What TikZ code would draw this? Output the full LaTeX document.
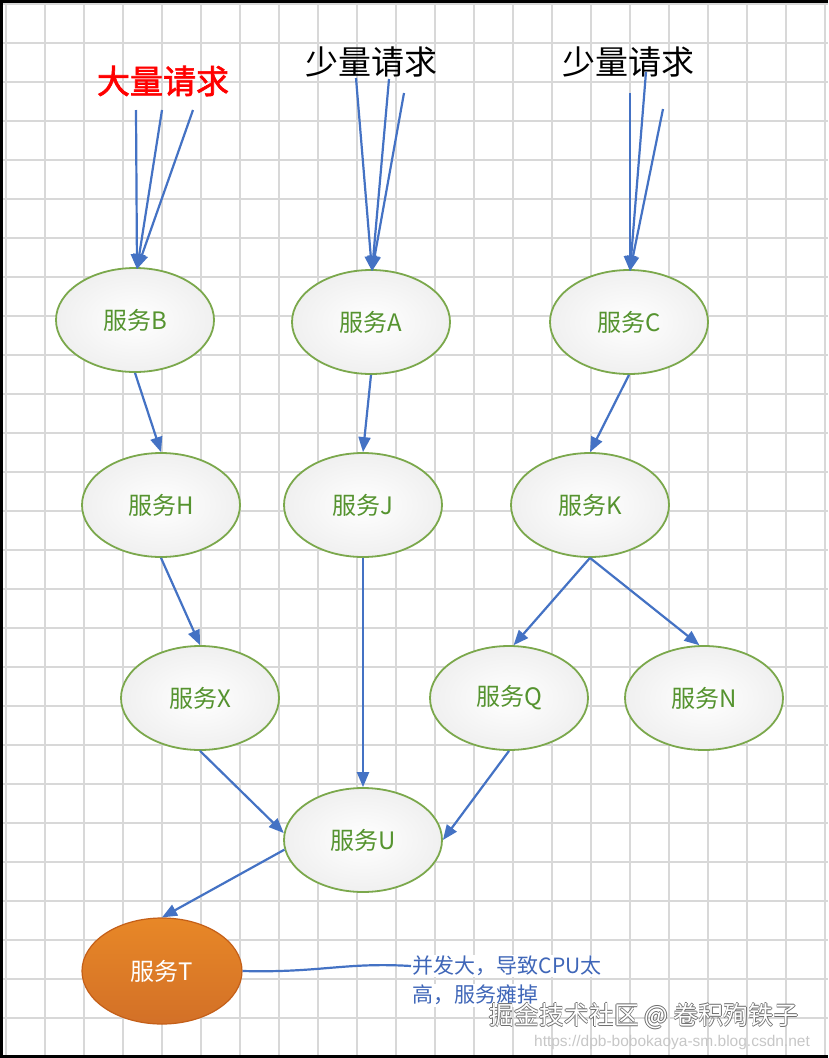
\documentclass[tikz,border=0pt]{standalone}
\usepackage{fontspec}
\setmainfont[AutoFakeBold=2]{Noto Sans CJK SC}
\newfontfamily\urlfont{Liberation Sans}
\usetikzlibrary{arrows.meta,shapes.geometric,calc}
\definecolor{arrblue}{HTML}{4472C4}
\definecolor{svcgreen}{HTML}{7BA84C}
\definecolor{txtgreen}{HTML}{55932F}
\definecolor{gridc}{HTML}{D8D8D8}
\definecolor{tfill}{HTML}{E57A2B}
\definecolor{tdark}{HTML}{C45F18}
\definecolor{anncol}{HTML}{3F66B8}
\definecolor{wmgray}{HTML}{6E6E6E}
\newcommand\outlined[1]{\leavevmode
  \rlap{\kern-0.9pt\textcolor{wmgray}{#1}}%
  \rlap{\kern0.9pt\textcolor{wmgray}{#1}}%
  \rlap{\raisebox{0.9pt}{\textcolor{wmgray}{#1}}}%
  \rlap{\raisebox{-0.9pt}{\textcolor{wmgray}{#1}}}%
  \textcolor{white}{#1}}
\begin{document}
\begin{tikzpicture}[x=1pt,y=-1pt,
  svc/.style={ellipse, draw=svcgreen, line width=1.8pt, minimum width=158pt,
    minimum height=104pt, inner sep=0pt, inner color=white, outer color=black!6,
    text=txtgreen, font=\fontsize{24}{24}\selectfont},
  hot/.style={ellipse, draw=tdark, line width=1.2pt, minimum width=160pt,
    minimum height=106pt, inner sep=0pt, top color=tfill!90!yellow, bottom color=tfill!92!black,
    text=white, font=\fontsize{24}{24}\selectfont},
  flow/.style={draw=arrblue, line width=2.2pt, -{Triangle[length=15pt,width=12pt]}},
  req/.style={font=\fontsize{33}{33}\selectfont, inner sep=0pt},
  ann/.style={anchor=west, fill=white, inner sep=1.5pt, text=anncol, font=\fontsize{21}{21}\selectfont}
]
\useasboundingbox (0,0) rectangle (828,1058);
\fill[white] (0,0) rectangle (828,1058);
% grid
\foreach \x in {6,45,...,825} \draw[gridc, line width=1.3pt] (\x,0) -- (\x,1058);
\foreach \y in {4,43,...,1057} \draw[gridc, line width=1.3pt] (0,\y) -- (828,\y);
% frame
\draw[black, line width=3pt] (1.5,1058) -- (1.5,1.5) -- (828,1.5);
\draw[black, line width=3pt] (0,1056.5) -- (828,1056.5);

% request labels
\node[req, text=red] (r1) at (163,81) {\bfseries 大量请求};
\node[req] (r2) at (371,62) {少量请求};
\node[req] (r3) at (628,62) {少量请求};

% services
\node[svc] (B) at (135,320) {服务B};
\node[svc] (A) at (371,322) {服务A};
\node[svc] (C) at (629,322) {服务C};
\node[svc] (H) at (161,505) {服务H};
\node[svc] (J) at (363,505) {服务J};
\node[svc] (K) at (590,505) {服务K};
\node[svc] (X) at (200,698) {服务X};
\node[svc] (Q) at (509,698) {服务Q};
\node[svc] (N) at (704,698) {服务N};
\node[svc] (U) at (363,840) {服务U};
\node[hot] (T) at (162,971) {服务T};

% request fans
\coordinate (s1a) at (136,110); \coordinate (s1b) at (162,110); \coordinate (s1c) at (193,110);
\coordinate (s2a) at (356,78);  \coordinate (s2b) at (389,79);  \coordinate (s2c) at (404,93);
\coordinate (s3a) at (630,93);  \coordinate (s3b) at (646,72);  \coordinate (s3c) at (663,109);
\foreach \s in {s1a,s1b,s1c} \draw[flow] (\s) -- ($(B.north)+(2,2)$);
\foreach \s in {s2a,s2b,s2c} \draw[flow] (\s) -- ($(A.north)+(1,2)$);
\foreach \s in {s3a,s3b,s3c} \draw[flow] (\s) -- ($(C.north)+(1,2)$);

% service flows
\draw[flow] (B.south) -- (H.north);
\draw[flow] (A.south) -- (J.north);
\draw[flow] (C.south) -- (K.north);
\draw[flow] (H.south) -- (X.north);
\draw[flow] (J.south) -- (U.north);
\draw[flow] (K.south) -- (Q.85);
\draw[flow] (K.south) -- (N.95);
\draw[flow] (X.south) -- (U.175);
\draw[flow] (Q.south) -- (U.east);
\draw[flow] (U.187) -- (T.north);

% annotation
\node[ann] (ann1) at (411,966) {并发大，导致CPU太};
\node[ann] (ann2) at (411,995) {高，服务瘫掉};
\draw[arrblue, line width=2.2pt] (T.east) .. controls (320,973) and (345,962) .. (ann1.west);

% watermark
\node[font=\fontsize{25}{25}\selectfont, inner sep=0pt] (wm) at (644,1016) {\outlined{掘金技术社区 @ 卷积殉铁子}};
\node[font=\urlfont\fontsize{15.5}{15.5}\selectfont, text=black!22, inner sep=0pt] (url) at (672,1042) {https://dpb-bobokaoya-sm.blog.csdn.net};
\end{tikzpicture}
\end{document}
